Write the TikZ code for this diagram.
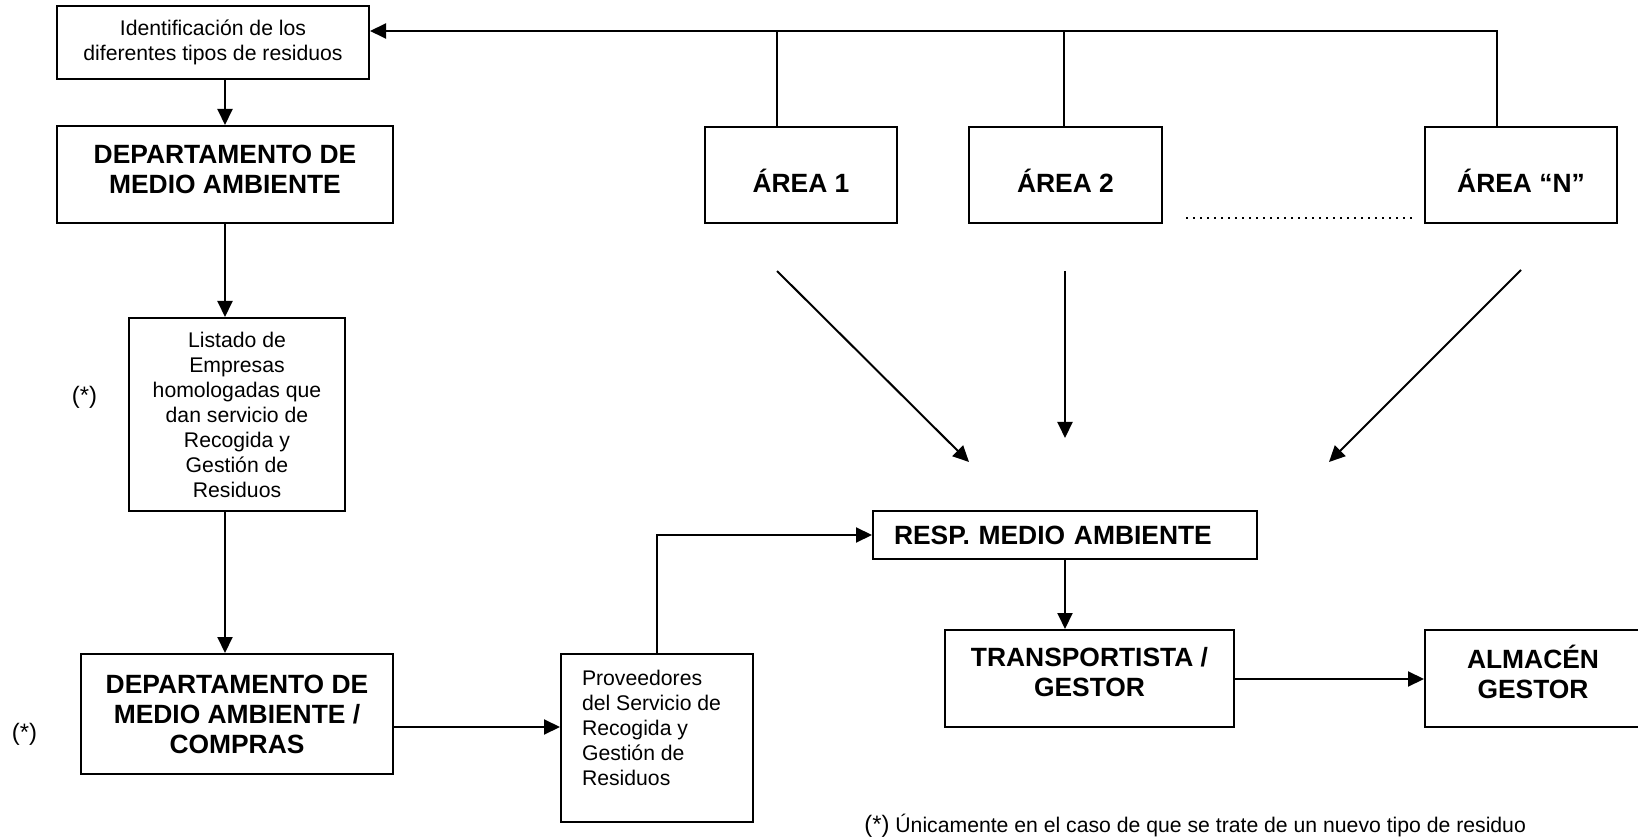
\documentclass[tikz,border=0pt]{standalone}
\usepackage{fontspec}
\setmainfont{Liberation Sans}
\usetikzlibrary{arrows.meta}
\tikzset{process/.style = {draw, rectangle, line width=1pt, inner sep=0pt, align=center},
  link/.style = {line width=1pt},
  arrow/.style = {link,-{Triangle[length=8pt,width=7.5pt]}},
  dotline/.style = {line width=1pt, dash pattern=on 1pt off 2.5pt},
  smalltext/.style = {font=\fontsize{10.6}{12.5}\selectfont},
  bigtext/.style = {font=\fontsize{13.2}{15}\selectfont\bfseries}}

\begin{document}
\begin{tikzpicture}[x=0.5pt,y=-0.5pt]
\useasboundingbox (0,0) rectangle (1638,839);

\node[process, smalltext, minimum width=156pt, minimum height=36.5pt] (ident) at (213,42.5) {Identificación de los\\diferentes tipos de residuos};
\node[process, bigtext, minimum width=168pt, minimum height=48.5pt] (deptma) at (225,174.5) {\parbox[c][48.5pt][c]{168pt}{\centering DEPARTAMENTO DE\\MEDIO AMBIENTE\par\vspace{5pt}}};
\node[process, smalltext, minimum width=108pt, minimum height=96.5pt] (listado) at (237,414.5) {Listado de\\Empresas\\homologadas que\\dan servicio de\\Recogida y\\Gestión de\\Residuos};
\node[process, bigtext, minimum width=156pt, minimum height=60pt] (compras) at (237,714) {DEPARTAMENTO DE\\MEDIO AMBIENTE /\\COMPRAS};
\node[process, smalltext, minimum width=96pt, minimum height=84pt] (prov) at (657,738) {\parbox[c][84pt][t]{75pt}{\raggedright\vspace*{8pt}Proveedores\\del Servicio de\\Recogida y\\Gestión de\\Residuos}};

\node[process, bigtext, minimum width=96pt, minimum height=48pt, text height=18pt, text depth=0pt] (area1) at (801,175) {ÁREA 1};
\node[process, bigtext, minimum width=96.5pt, minimum height=48pt, text height=18pt, text depth=0pt] (area2) at (1065.5,175) {ÁREA 2};
\node[process, bigtext, minimum width=96pt, minimum height=48pt, text height=18pt, text depth=0pt] (areaN) at (1521,175) {ÁREA “N”};

\node[process, bigtext, minimum width=192pt, minimum height=24pt, text width=171pt, align=left] (resp) at (1065,535) {RESP. MEDIO AMBIENTE};
\node[process, bigtext, minimum width=144.5pt, minimum height=48.5pt] (transp) at (1089.5,678.5) {\parbox[c][48.5pt][c]{144.5pt}{\centering TRANSPORTISTA /\\GESTOR\par\vspace{6.5pt}}};
\node[process, bigtext, minimum width=108pt, minimum height=48.5pt] (almacen) at (1533,678.5) {\parbox[c][48.5pt][c]{108pt}{\centering ALMACÉN\\GESTOR\par\vspace{6.5pt}}};

\node[font=\fontsize{11.9}{14}\selectfont] (nota1) at (84.5,397) {(*)};
\node[font=\fontsize{11.9}{14}\selectfont] (nota2) at (24.5,734) {(*)};
\node[smalltext, anchor=base west, inner sep=0pt] (pie) at (864,832) {{\fontsize{11.9}{14}\selectfont(*)} Únicamente en el caso de que se trate de un nuevo tipo de residuo};

\coordinate (bus) at ([yshift=5.75pt]ident.east);
\draw[arrow] ([xshift=-12pt]areaN.north) |- (bus);
\draw[link] ([xshift=-12pt]area1.north) -- ([xshift=-12pt]area1.north |- bus);
\draw[link] ([xshift=-0.75pt]area2.north) -- ([xshift=-0.75pt]area2.north |- bus);
\draw[dotline] ([xshift=11.5pt,yshift=3pt]area2.south east) -- ([xshift=-3.5pt,yshift=3pt]areaN.south west);

\draw[arrow] (ident.south -| deptma.north) -- (deptma.north);
\draw[arrow] (deptma.south) -- (deptma.south |- listado.north);
\draw[arrow] (listado.south -| deptma.south) -- (deptma.south |- compras.north);
\draw[arrow] ([yshift=-6.5pt]compras.east) -- ([yshift=-6.5pt]compras.east -| prov.west);
\draw[arrow] (prov.north) |- (resp.west);
\draw[arrow] (resp.south) -- (resp.south |- transp.north);
\draw[arrow] ([yshift=-0.25pt]transp.east) -- ([yshift=-0.25pt]almacen.west);

\coordinate (d1) at (777,271);
\coordinate (d1e) at (969,462);
\coordinate (d2) at (1065,271);
\coordinate (d2e) at (1065,438);
\coordinate (dN) at (1521,270);
\coordinate (dNe) at (1329,462);
\draw[arrow] (d1) -- (d1e);
\draw[arrow] (d2) -- (d2e);
\draw[arrow] (dN) -- (dNe);
\end{tikzpicture}
\end{document}
